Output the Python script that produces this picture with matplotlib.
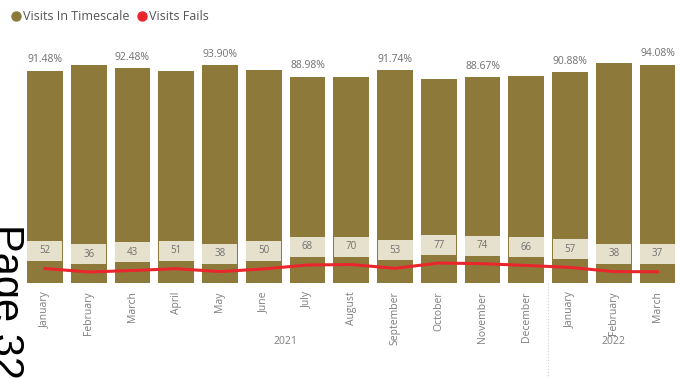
import matplotlib

matplotlib.use("Agg")
import matplotlib.pyplot as plt
from matplotlib.lines import Line2D
from matplotlib.transforms import blended_transform_factory

plt.rcParams["font.family"] = ["Open Sans", "DejaVu Sans"]

# monthly figures
months = ["January", "February", "March", "April", "May", "June", "July",
          "August", "September", "October", "November", "December",
          "January", "February", "March"]
years = ["2021", "2022"]
months_per_year = [12, 3]
in_timescale_pct = [91.48, 94.0, 92.48, 91.4, 93.90, 91.7, 88.98, 88.8,
                    91.74, 87.9, 88.67, 89.2, 90.88, 94.7, 94.08]
visits_fails = [52, 36, 43, 51, 38, 50, 68, 70, 53, 77, 74, 66, 57, 38, 37]

BAR_COLOR = "#8d7a3b"
LINE_COLOR = "#e8262b"
BOX_COLOR = "#e6e1cd"
TEXT_GREY = "#6f6f6f"

W, H = 681, 378
fig = plt.figure(figsize=(W / 100, H / 100), dpi=100)

# plot area in pixels
left_px, right_px, top_px, bottom_px = 23.1, 679.4, 48, 283
ax = fig.add_axes([left_px / W, 1 - bottom_px / H,
                   (right_px - left_px) / W, (bottom_px - top_px) / H])
ax2 = ax.twinx()
plot_h = bottom_px - top_px

x = list(range(len(months)))
ax.bar(x, in_timescale_pct, width=0.82, color=BAR_COLOR, zorder=2)
ax.set_ylim(0, 101.3)
ax.set_xlim(-0.5, len(months) - 0.5)

# every second bar gets its percentage (the rest would collide)
for i, v in enumerate(in_timescale_pct):
    if i % 2 == 0:
        ax.annotate(f"{v:.2f}%", (i, v), xytext=(0, 4), textcoords="offset points",
                    ha="center", va="bottom", fontsize=7.5, color=TEXT_GREY)

# fails on the secondary axis, with label boxes sitting above the line
lo, hi = -14, 1056
ax2.set_ylim(lo, hi)
per_px = (hi - lo) / plot_h
box_bottom = [v + 8 * per_px for v in visits_fails]
ax2.bar(x, [20 * per_px] * len(x), bottom=box_bottom, width=0.8,
        color=BOX_COLOR, zorder=3)
for i, v in enumerate(visits_fails):
    ax2.text(i, box_bottom[i] + 10 * per_px, str(v), ha="center", va="center",
             fontsize=7, color=TEXT_GREY, zorder=4)
ax2.plot(x, visits_fails, color=LINE_COLOR, linewidth=2.2, zorder=5)

for a in (ax, ax2):
    for s in a.spines.values():
        s.set_visible(False)
    a.set_yticks([])
ax.set_xticks(x)
ax.set_xticklabels(months, rotation=90, fontsize=7.5, color="#7d7d7d")
ax.tick_params(axis="x", length=0, pad=6)

# year groups under the month labels
trans = blended_transform_factory(ax.transData, ax.transAxes)
start = 0
for year, n in zip(years, months_per_year):
    mid = start + (n - 1) / 2
    ax.text(mid, -0.25, year, transform=trans, ha="center", va="center",
            fontsize=7.5, color="#7d7d7d")
    if start > 0:
        ax.plot([start - 0.5, start - 0.5], [0, -0.42], transform=trans,
                color="#cfcfcf", linestyle=":", linewidth=0.8, clip_on=False)
    start += n

# legend
handles = [
    Line2D([], [], marker="o", linestyle="", color=BAR_COLOR, markersize=6.5),
    Line2D([], [], marker="o", linestyle="", color=LINE_COLOR, markersize=6.5),
]
fig.legend(handles, ["Visits In Timescale", "Visits Fails"], loc="upper left",
           bbox_to_anchor=(10 / W, 1 - 10 / H), ncol=2, frameon=False,
           fontsize=9, labelcolor="#555555", handletextpad=0.05,
           columnspacing=0.5, borderaxespad=0, borderpad=0, handlelength=1)

# page number stamped on the left edge
fig.text(-15 / W, 1 - 224 / H, "Page 32", rotation=270, ha="left", va="top",
         fontsize=30, family="Liberation Sans", color="black")

fig.savefig("out.png", dpi=100)
